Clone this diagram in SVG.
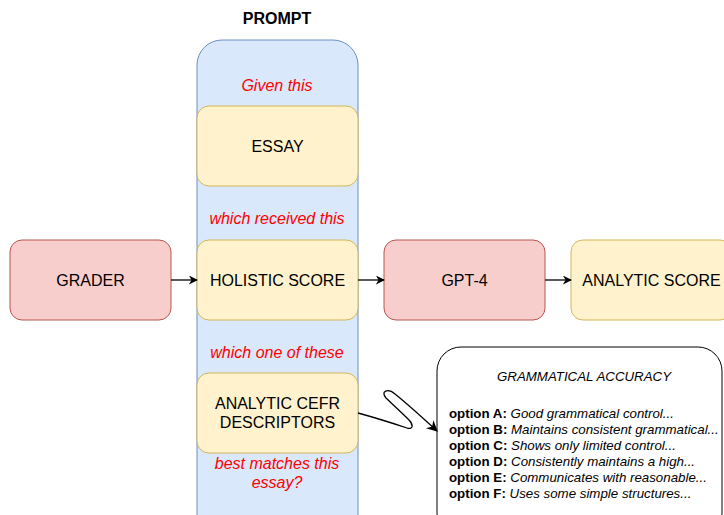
<svg xmlns="http://www.w3.org/2000/svg" width="724" height="515" viewBox="0 0 724 515">
<style>
.red{fill:#f8cecc;stroke:#b85450;stroke-width:1}
.yel{fill:#fff2cc;stroke:#d6b656;stroke-width:1}
.blue{fill:#dae8fc;stroke:#6c8ebf;stroke-width:1}
.t{font-family:Helvetica,"Liberation Sans",Arial,sans-serif;font-size:16px;fill:#000;text-anchor:middle;dominant-baseline:central}
.r{font-family:Helvetica,"Liberation Sans",Arial,sans-serif;font-size:16px;fill:#ff0000;font-style:italic;text-anchor:middle;dominant-baseline:central}
.o{font-family:Helvetica,"Liberation Sans",Arial,sans-serif;font-size:13.3px;fill:#000;dominant-baseline:central}
.c{fill:none;stroke:#000;stroke-width:1.3}
</style>
<defs>
<marker id="ah" viewBox="0 0 10 10" refX="9" refY="5" markerWidth="9" markerHeight="9" markerUnits="userSpaceOnUse" orient="auto">
<path d="M0,0 L10,5 L0,10 L3,5 Z" fill="#000"/>
</marker>
<marker id="ah2" viewBox="0 0 10 10" refX="9" refY="5" markerWidth="11" markerHeight="11" markerUnits="userSpaceOnUse" orient="auto">
<path d="M0,0 L10,5 L0,10 L3,5 Z" fill="#000"/>
</marker>
</defs>
<text x="277" y="18" class="t" font-weight="bold">PROMPT</text>
<g id="prompt">
<rect x="197" y="40" width="161" height="510" rx="25" class="blue"/>
<text x="277" y="85" class="r">Given this</text>
<text x="277" y="218" class="r">which received this</text>
<text x="277" y="352" class="r">which one of these</text>
<text x="277" y="463" class="r">best matches this</text>
<text x="277" y="482" class="r">essay?</text>
</g>
<g id="essay">
<rect x="197" y="106" width="161" height="80" rx="12" class="yel"/>
<text x="277.5" y="146" class="t">ESSAY</text>
</g>
<g id="holistic">
<rect x="197" y="240" width="161" height="80" rx="12" class="yel"/>
<text x="277.5" y="280" class="t">HOLISTIC SCORE</text>
</g>
<g id="cefr">
<rect x="197" y="373" width="161" height="80" rx="12" class="yel"/>
<text x="277.5" y="403" class="t">ANALYTIC CEFR</text>
<text x="277.5" y="422" class="t">DESCRIPTORS</text>
</g>
<g id="grader">
<rect x="10" y="240" width="161" height="80" rx="12" class="red"/>
<text x="90.5" y="280" class="t">GRADER</text>
</g>
<g id="gpt4">
<rect x="384" y="240" width="161" height="80" rx="12" class="red"/>
<text x="464.5" y="280" class="t">GPT-4</text>
</g>
<g id="analytic">
<rect x="571" y="240" width="161" height="80" rx="12" class="yel"/>
<text x="651.5" y="280" class="t">ANALYTIC SCORE</text>
</g>
<g id="descriptors">
<rect x="437" y="347" width="285" height="190" rx="24" fill="#fff" stroke="#000" stroke-width="1"/>
<text x="584" y="376" class="o" font-style="italic" text-anchor="middle" font-size="12px">GRAMMATICAL ACCURACY</text>
<text x="449" y="413" class="o"><tspan font-weight="bold">option A: </tspan><tspan font-style="italic">Good grammatical control...</tspan></text>
<text x="449" y="429" class="o"><tspan font-weight="bold">option B: </tspan><tspan font-style="italic">Maintains consistent grammatical...</tspan></text>
<text x="449" y="445" class="o"><tspan font-weight="bold">option C: </tspan><tspan font-style="italic">Shows only limited control...</tspan></text>
<text x="449" y="461" class="o"><tspan font-weight="bold">option D: </tspan><tspan font-style="italic">Consistently maintains a high...</tspan></text>
<text x="449" y="477" class="o"><tspan font-weight="bold">option E: </tspan><tspan font-style="italic">Communicates with reasonable...</tspan></text>
<text x="449" y="493" class="o"><tspan font-weight="bold">option F: </tspan><tspan font-style="italic">Uses some simple structures...</tspan></text>
</g>
<g id="connectors">
<path d="M171,280 L197,280" class="c" marker-end="url(#ah)"/>
<path d="M358,280 L384,280" class="c" marker-end="url(#ah)"/>
<path d="M545,280 L571,280" class="c" marker-end="url(#ah)"/>
<path d="M358,413 C380,419 398,425 407,428 C414,430 413,424 409,420 C400,411 392,404 386,398 C380,391 388,388 395,394 C410,406 425,420 437,431" class="c" marker-end="url(#ah2)"/>
</g>
</svg>
